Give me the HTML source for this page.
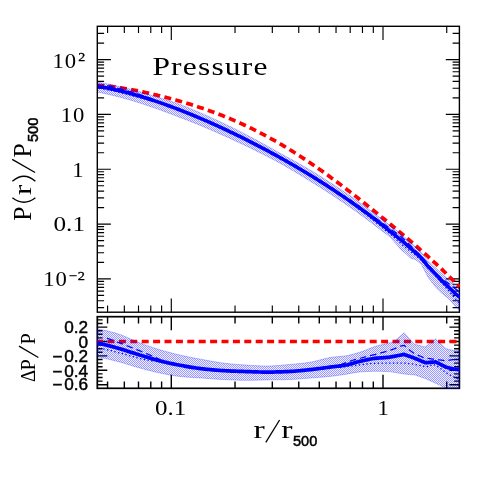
<!DOCTYPE html>
<html><head><meta charset="utf-8"><title>Pressure</title>
<style>
html,body{margin:0;padding:0;background:#fff;}
body{width:485px;height:485px;overflow:hidden;position:relative;font-family:"Liberation Serif",serif;}
svg{position:absolute;left:0;top:0;will-change:transform;}
text{fill:#000;}
.ser{font-family:"Liberation Serif",serif;}
.san{font-family:"Liberation Sans",sans-serif;}
</style></head><body>
<svg width="485" height="485" viewBox="0 0 485 485">
<defs>
<pattern id="hatch" width="2" height="2" patternUnits="userSpaceOnUse">
<rect width="2" height="2" fill="#0000ff" fill-opacity="0.06"/><rect x="0" y="0" width="1" height="1" fill="#0000ff" fill-opacity="0.36"/><rect x="1" y="1" width="1" height="1" fill="#0000ff" fill-opacity="0.36"/>
</pattern>
<clipPath id="cm"><rect x="97.89999999999999" y="26.3" width="362.29999999999995" height="285.9"/></clipPath>
<clipPath id="cl"><rect x="97.0" y="316.7" width="363.2" height="72.20000000000002"/></clipPath>
</defs>
<rect width="485" height="485" fill="#fff"/>
<!-- frames and ticks -->
<path d="M107.57,26.30L107.57,33.10M107.57,312.20L107.57,305.40M124.33,26.30L124.33,33.10M124.33,312.20L124.33,305.40M138.51,26.30L138.51,33.10M138.51,312.20L138.51,305.40M150.78,26.30L150.78,33.10M150.78,312.20L150.78,305.40M161.61,26.30L161.61,33.10M161.61,312.20L161.61,305.40M171.30,26.30L171.30,39.90M171.30,312.20L171.30,298.60M235.03,26.30L235.03,33.10M235.03,312.20L235.03,305.40M272.31,26.30L272.31,33.10M272.31,312.20L272.31,305.40M298.76,26.30L298.76,33.10M298.76,312.20L298.76,305.40M319.27,26.30L319.27,33.10M319.27,312.20L319.27,305.40M336.03,26.30L336.03,33.10M336.03,312.20L336.03,305.40M350.21,26.30L350.21,33.10M350.21,312.20L350.21,305.40M362.48,26.30L362.48,33.10M362.48,312.20L362.48,305.40M373.31,26.30L373.31,33.10M373.31,312.20L373.31,305.40M383.00,26.30L383.00,39.90M383.00,312.20L383.00,298.60M446.73,26.30L446.73,33.10M446.73,312.20L446.73,305.40M97.30,307.59L104.10,307.59M459.40,307.59L452.60,307.59M97.30,300.74L104.10,300.74M459.40,300.74L452.60,300.74M97.30,295.43L104.10,295.43M459.40,295.43L452.60,295.43M97.30,291.08L104.10,291.08M459.40,291.08L452.60,291.08M97.30,287.41L104.10,287.41M459.40,287.41L452.60,287.41M97.30,284.23L104.10,284.23M459.40,284.23L452.60,284.23M97.30,281.43L104.10,281.43M459.40,281.43L452.60,281.43M97.30,278.92L110.90,278.92M459.40,278.92L445.80,278.92M97.30,262.41L104.10,262.41M459.40,262.41L452.60,262.41M97.30,252.76L104.10,252.76M459.40,252.76L452.60,252.76M97.30,245.91L104.10,245.91M459.40,245.91L452.60,245.91M97.30,240.60L104.10,240.60M459.40,240.60L452.60,240.60M97.30,236.25L104.10,236.25M459.40,236.25L452.60,236.25M97.30,232.58L104.10,232.58M459.40,232.58L452.60,232.58M97.30,229.40L104.10,229.40M459.40,229.40L452.60,229.40M97.30,226.60L104.10,226.60M459.40,226.60L452.60,226.60M97.30,224.09L110.90,224.09M459.40,224.09L445.80,224.09M97.30,207.58L104.10,207.58M459.40,207.58L452.60,207.58M97.30,197.93L104.10,197.93M459.40,197.93L452.60,197.93M97.30,191.08L104.10,191.08M459.40,191.08L452.60,191.08M97.30,185.77L104.10,185.77M459.40,185.77L452.60,185.77M97.30,181.42L104.10,181.42M459.40,181.42L452.60,181.42M97.30,177.75L104.10,177.75M459.40,177.75L452.60,177.75M97.30,174.57L104.10,174.57M459.40,174.57L452.60,174.57M97.30,171.77L104.10,171.77M459.40,171.77L452.60,171.77M97.30,169.26L110.90,169.26M459.40,169.26L445.80,169.26M97.30,152.75L104.10,152.75M459.40,152.75L452.60,152.75M97.30,143.10L104.10,143.10M459.40,143.10L452.60,143.10M97.30,136.25L104.10,136.25M459.40,136.25L452.60,136.25M97.30,130.94L104.10,130.94M459.40,130.94L452.60,130.94M97.30,126.59L104.10,126.59M459.40,126.59L452.60,126.59M97.30,122.92L104.10,122.92M459.40,122.92L452.60,122.92M97.30,119.74L104.10,119.74M459.40,119.74L452.60,119.74M97.30,116.94L104.10,116.94M459.40,116.94L452.60,116.94M97.30,114.43L110.90,114.43M459.40,114.43L445.80,114.43M97.30,97.92L104.10,97.92M459.40,97.92L452.60,97.92M97.30,88.27L104.10,88.27M459.40,88.27L452.60,88.27M97.30,81.42L104.10,81.42M459.40,81.42L452.60,81.42M97.30,76.11L104.10,76.11M459.40,76.11L452.60,76.11M97.30,71.76L104.10,71.76M459.40,71.76L452.60,71.76M97.30,68.09L104.10,68.09M459.40,68.09L452.60,68.09M97.30,64.91L104.10,64.91M459.40,64.91L452.60,64.91M97.30,62.11L104.10,62.11M459.40,62.11L452.60,62.11M97.30,59.60L110.90,59.60M459.40,59.60L445.80,59.60M97.30,43.09L104.10,43.09M459.40,43.09L452.60,43.09M97.30,33.44L104.10,33.44M459.40,33.44L452.60,33.44" stroke="#000" stroke-width="1.15" fill="none"/>
<path d="M107.57,316.70L107.57,323.50M107.57,388.30L107.57,381.50M124.33,316.70L124.33,323.50M124.33,388.30L124.33,381.50M138.51,316.70L138.51,323.50M138.51,388.30L138.51,381.50M150.78,316.70L150.78,323.50M150.78,388.30L150.78,381.50M161.61,316.70L161.61,323.50M161.61,388.30L161.61,381.50M171.30,316.70L171.30,330.30M171.30,388.30L171.30,374.70M235.03,316.70L235.03,323.50M235.03,388.30L235.03,381.50M272.31,316.70L272.31,323.50M272.31,388.30L272.31,381.50M298.76,316.70L298.76,323.50M298.76,388.30L298.76,381.50M319.27,316.70L319.27,323.50M319.27,388.30L319.27,381.50M336.03,316.70L336.03,323.50M336.03,388.30L336.03,381.50M350.21,316.70L350.21,323.50M350.21,388.30L350.21,381.50M362.48,316.70L362.48,323.50M362.48,388.30L362.48,381.50M373.31,316.70L373.31,323.50M373.31,388.30L373.31,381.50M383.00,316.70L383.00,330.30M383.00,388.30L383.00,374.70M446.73,316.70L446.73,323.50M446.73,388.30L446.73,381.50M97.30,384.70L107.30,384.70M459.40,384.70L449.40,384.70M97.30,381.10L102.60,381.10M459.40,381.10L454.10,381.10M97.30,377.50L102.60,377.50M459.40,377.50L454.10,377.50M97.30,373.90L102.60,373.90M459.40,373.90L454.10,373.90M97.30,370.30L107.30,370.30M459.40,370.30L449.40,370.30M97.30,366.70L102.60,366.70M459.40,366.70L454.10,366.70M97.30,363.10L102.60,363.10M459.40,363.10L454.10,363.10M97.30,359.50L102.60,359.50M459.40,359.50L454.10,359.50M97.30,355.90L107.30,355.90M459.40,355.90L449.40,355.90M97.30,352.30L102.60,352.30M459.40,352.30L454.10,352.30M97.30,348.70L102.60,348.70M459.40,348.70L454.10,348.70M97.30,345.10L102.60,345.10M459.40,345.10L454.10,345.10M97.30,341.50L107.30,341.50M459.40,341.50L449.40,341.50M97.30,337.90L102.60,337.90M459.40,337.90L454.10,337.90M97.30,334.30L102.60,334.30M459.40,334.30L454.10,334.30M97.30,330.70L102.60,330.70M459.40,330.70L454.10,330.70M97.30,327.10L107.30,327.10M459.40,327.10L449.40,327.10M97.30,323.50L102.60,323.50M459.40,323.50L454.10,323.50M97.30,319.90L102.60,319.90M459.40,319.90L454.10,319.90" stroke="#000" stroke-width="1.4" fill="none"/>
<rect x="97.3" y="26.3" width="362.09999999999997" height="285.9" fill="none" stroke="#000" stroke-width="1.4"/>
<rect x="97.3" y="316.7" width="362.09999999999997" height="71.60000000000002" fill="none" stroke="#000" stroke-width="1.7"/>
<!-- main panel data -->
<g clip-path="url(#cm)">
<path d="M97.30,85.36 L98.75,85.44 L100.21,85.53 L101.66,85.63 L103.12,85.74 L104.57,85.87 L106.03,86.00 L107.48,86.15 L108.93,86.30 L110.39,86.46 L111.84,86.63 L113.30,86.81 L114.75,87.00 L116.20,87.20 L117.30,87.35 L117.66,87.40 L119.11,87.61 L120.57,87.83 L122.02,88.05 L123.48,88.29 L124.93,88.52 L125.00,88.54 L126.38,88.77 L127.84,89.02 L129.29,89.28 L130.75,89.54 L132.20,89.81 L133.66,90.08 L135.11,90.36 L136.56,90.64 L138.02,90.93 L139.47,91.23 L139.50,91.23 L140.93,91.53 L142.38,91.83 L143.83,92.14 L145.29,92.45 L146.74,92.77 L148.20,93.09 L149.65,93.42 L150.00,93.50 L151.11,93.75 L152.56,94.09 L154.01,94.43 L155.47,94.77 L156.92,95.12 L158.38,95.47 L159.83,95.83 L161.29,96.19 L161.80,96.32 L162.74,96.56 L164.19,96.92 L165.65,97.30 L167.10,97.68 L168.56,98.06 L170.01,98.45 L171.47,98.84 L172.92,99.23 L174.37,99.63 L175.83,100.04 L177.28,100.45 L178.74,100.86 L180.00,101.22 L180.19,101.28 L181.64,101.70 L182.00,101.80 L183.10,102.13 L184.55,102.56 L186.01,102.99 L187.46,103.43 L188.92,103.88 L190.37,104.33 L191.82,104.79 L193.28,105.25 L194.73,105.71 L196.19,106.18 L197.64,106.66 L199.10,107.14 L200.55,107.63 L202.00,108.12 L202.30,108.22 L203.46,108.61 L204.91,109.12 L206.37,109.62 L207.00,109.85 L207.82,110.14 L209.27,110.66 L210.73,111.18 L212.18,111.71 L213.64,112.25 L215.09,112.79 L216.55,113.34 L218.00,113.89 L219.45,114.45 L220.91,115.02 L222.36,115.59 L223.82,116.17 L224.50,116.45 L225.27,116.76 L226.73,117.35 L228.18,117.95 L229.63,118.55 L231.09,119.17 L232.54,119.78 L234.00,120.41 L235.00,120.84 L235.45,121.04 L236.90,121.68 L238.36,122.32 L239.81,122.97 L241.27,123.63 L242.72,124.30 L244.18,124.97 L245.63,125.65 L246.80,126.20 L247.08,126.34 L248.54,127.03 L249.99,127.73 L251.45,128.44 L252.90,129.15 L254.36,129.87 L255.81,130.60 L257.26,131.34 L258.72,132.08 L260.00,132.74 L260.17,132.83 L261.63,133.59 L263.08,134.35 L264.53,135.12 L265.99,135.90 L267.00,136.45 L267.44,136.69 L268.90,137.48 L270.35,138.28 L271.81,139.09 L273.26,139.91 L274.71,140.73 L276.17,141.56 L277.62,142.39 L279.08,143.24 L280.00,143.77 L280.53,144.09 L281.99,144.94 L283.44,145.81 L284.89,146.68 L286.35,147.56 L287.30,148.14 L287.80,148.44 L289.26,149.33 L290.00,149.79 L290.71,150.23 L292.17,151.14 L293.62,152.05 L295.07,152.97 L296.53,153.89 L297.98,154.83 L299.44,155.76 L300.89,156.71 L302.34,157.66 L303.80,158.62 L305.25,159.58 L306.71,160.55 L308.16,161.53 L309.50,162.43 L309.62,162.51 L311.07,163.50 L312.52,164.49 L313.00,164.82 L313.98,165.49 L315.00,166.20 L315.43,166.49 L316.89,167.51 L318.34,168.52 L319.80,169.54 L321.25,170.57 L322.70,171.61 L324.16,172.64 L325.61,173.69 L327.07,174.74 L328.52,175.79 L329.97,176.85 L331.43,177.91 L331.80,178.18 L332.88,178.98 L334.34,180.05 L335.79,181.13 L337.25,182.21 L338.70,183.30 L340.15,184.39 L341.61,185.49 L343.06,186.58 L344.52,187.69 L345.00,188.06 L345.97,188.80 L347.43,189.91 L348.88,191.02 L350.33,192.14 L351.79,193.26 L353.24,194.39 L354.70,195.52 L356.15,196.65 L357.60,197.79 L359.06,198.93 L359.80,199.51 L360.00,199.67 L360.51,200.08 L361.97,201.22 L363.42,202.37 L364.88,203.53 L366.33,204.68 L367.78,205.84 L369.24,207.00 L370.69,208.17 L372.15,209.34 L373.60,210.51 L374.70,211.39 L375.06,211.68 L376.51,212.86 L377.96,214.04 L379.42,215.22 L380.00,215.69 L380.87,216.40 L382.33,217.59 L383.78,218.78 L385.23,219.97 L386.69,221.17 L388.14,222.37 L389.50,223.49 L389.60,223.57 L390.30,224.15 L391.05,224.77 L392.51,225.98 L393.40,226.72 L393.96,227.19 L395.41,228.40 L396.87,229.61 L398.32,230.83 L399.78,232.05 L400.60,232.74 L401.23,233.28 L402.69,234.50 L404.14,235.74 L404.20,235.79 L405.59,236.97 L407.05,238.21 L408.50,239.45 L409.96,240.69 L410.90,241.50 L411.41,241.94 L412.87,243.20 L414.00,244.18 L414.32,244.45 L415.20,245.22 L415.77,245.71 L417.23,246.98 L418.68,248.25 L420.14,249.53 L421.20,250.46 L421.59,250.81 L423.04,252.10 L424.50,253.39 L425.30,254.10 L425.50,254.28 L425.95,254.68 L426.20,254.91 L427.41,255.99 L428.40,256.88 L428.86,257.30 L430.32,258.62 L431.77,259.94 L433.22,261.27 L434.68,262.61 L435.50,263.37 L436.13,263.96 L437.59,265.31 L439.04,266.67 L440.50,268.05 L441.80,269.29 L441.95,269.43 L443.40,270.82 L444.86,272.22 L446.00,273.33 L446.31,273.64 L447.77,275.06 L449.22,276.50 L450.67,277.94 L452.13,279.40 L453.00,280.29 L453.40,280.69 L453.58,280.88 L455.04,282.37 L455.20,282.53 L456.49,283.87 L457.95,285.38 L459.40,286.92" fill="none" stroke="#ff0000" stroke-width="3.7" stroke-dasharray="7 4.36"/>
<path d="M97.30,82.14 L98.75,82.37 L100.21,82.61 L101.66,82.86 L103.12,83.12 L104.57,83.38 L106.03,83.65 L107.48,83.93 L108.93,84.21 L110.39,84.50 L111.84,84.80 L113.30,85.10 L114.75,85.41 L116.20,85.73 L117.30,85.98 L117.66,86.06 L119.11,86.39 L120.57,86.73 L122.02,87.07 L123.48,87.42 L124.93,87.78 L125.00,87.80 L126.38,88.14 L127.84,88.51 L129.29,88.89 L130.75,89.27 L132.20,89.66 L133.66,90.05 L135.11,90.45 L136.56,90.86 L138.02,91.27 L139.47,91.69 L139.50,91.70 L140.93,92.11 L142.38,92.54 L143.83,92.97 L145.29,93.41 L146.74,93.85 L148.20,94.30 L149.65,94.76 L150.00,94.87 L151.11,95.22 L152.56,95.68 L154.01,96.15 L155.47,96.61 L156.92,97.04 L158.38,97.47 L159.83,97.91 L161.29,98.35 L161.80,98.50 L162.74,98.79 L164.19,99.24 L165.65,99.70 L167.10,100.16 L168.56,100.62 L170.01,101.09 L171.47,101.56 L172.92,102.04 L174.37,102.52 L175.83,103.01 L177.28,103.50 L178.74,104.00 L180.00,104.43 L180.19,104.51 L181.64,105.08 L182.00,105.23 L183.10,105.67 L184.55,106.25 L186.01,106.84 L187.46,107.44 L188.92,108.04 L190.37,108.64 L191.82,109.25 L193.28,109.86 L194.73,110.47 L196.19,111.09 L197.64,111.71 L199.10,112.34 L200.55,112.97 L202.00,113.60 L202.30,113.73 L203.46,114.24 L204.91,114.88 L206.37,115.53 L207.00,115.81 L207.82,116.17 L209.27,116.83 L210.73,117.48 L212.18,118.14 L213.64,118.80 L215.09,119.47 L216.55,120.14 L218.00,120.81 L219.45,121.49 L220.91,122.17 L222.36,122.86 L223.82,123.54 L224.50,123.87 L225.27,124.23 L226.73,124.93 L228.18,125.63 L229.63,126.33 L231.09,127.03 L232.54,127.74 L234.00,128.45 L235.00,128.94 L235.45,129.17 L236.90,129.91 L238.36,130.65 L239.81,131.39 L241.27,132.14 L242.72,132.89 L244.18,133.64 L245.63,134.40 L246.80,135.01 L247.08,135.16 L248.54,135.92 L249.99,136.69 L251.45,137.46 L252.90,138.23 L254.36,139.01 L255.81,139.79 L257.26,140.57 L258.72,141.36 L260.00,142.05 L260.17,142.15 L261.63,142.94 L263.08,143.74 L264.53,144.54 L265.99,145.34 L267.00,145.90 L267.44,146.15 L268.90,146.96 L270.35,147.77 L271.81,148.59 L273.26,149.41 L274.71,150.23 L276.17,151.06 L277.62,151.89 L279.08,152.72 L280.00,153.26 L280.53,153.54 L281.99,154.32 L283.44,155.10 L284.89,155.88 L286.35,156.67 L287.30,157.19 L287.80,157.46 L289.26,158.26 L290.00,158.67 L290.71,159.06 L292.17,159.86 L293.62,160.67 L295.07,161.48 L296.53,162.29 L297.98,163.11 L299.44,163.93 L300.89,164.76 L302.34,165.58 L303.80,166.42 L305.25,167.26 L306.71,168.10 L308.16,168.94 L309.50,169.72 L309.62,169.79 L311.07,170.64 L312.52,171.50 L313.00,171.78 L313.98,172.38 L315.00,173.01 L315.43,173.27 L316.89,174.17 L318.34,175.07 L319.80,175.98 L321.25,176.89 L322.70,177.80 L324.16,178.72 L325.61,179.64 L327.07,180.57 L328.52,181.50 L329.97,182.44 L331.43,183.38 L331.80,183.62 L332.88,184.33 L334.34,185.28 L335.79,186.23 L337.25,187.19 L338.70,188.16 L340.15,189.13 L341.61,190.11 L343.06,191.09 L344.52,192.07 L345.00,192.40 L345.97,193.06 L347.43,194.06 L348.88,195.06 L350.33,196.07 L351.79,197.07 L353.24,198.08 L354.70,199.09 L356.15,200.11 L357.60,201.14 L359.06,202.17 L359.80,202.70 L360.00,202.84 L360.51,203.21 L361.97,204.25 L363.42,205.30 L364.88,206.36 L366.33,207.42 L367.78,208.48 L369.24,209.56 L370.69,210.64 L372.15,211.72 L373.60,212.82 L374.70,213.65 L375.06,213.91 L376.51,215.02 L377.96,216.13 L379.42,217.25 L380.00,217.70 L380.87,218.37 L382.33,219.49 L383.78,220.61 L385.23,221.74 L386.69,222.88 L388.14,224.03 L389.50,225.11 L389.60,225.18 L390.30,225.74 L391.05,226.31 L392.51,227.41 L393.40,228.09 L393.96,228.52 L395.41,229.64 L396.87,230.76 L398.32,231.90 L399.78,233.04 L400.60,233.71 L401.23,234.25 L402.69,235.50 L404.14,236.75 L404.20,236.80 L405.59,238.02 L407.05,239.29 L408.50,240.57 L409.96,241.85 L410.90,242.69 L411.41,243.15 L412.87,244.47 L414.00,245.50 L414.32,245.79 L415.20,246.60 L415.77,247.13 L417.23,248.47 L418.68,249.82 L420.14,251.18 L421.20,252.18 L421.59,252.67 L423.04,254.50 L424.50,256.33 L425.30,257.35 L425.50,257.60 L425.95,258.18 L426.20,258.49 L427.41,260.03 L428.40,261.26 L428.86,261.68 L430.32,263.00 L431.77,264.34 L433.22,265.68 L434.68,267.04 L435.50,267.81 L436.13,268.40 L437.59,269.78 L439.04,271.16 L440.50,272.56 L441.80,273.82 L441.95,273.94 L443.40,275.17 L444.86,276.42 L446.00,277.40 L446.31,277.67 L447.77,278.94 L449.22,280.21 L450.67,281.50 L452.13,282.80 L453.00,283.59 L453.40,283.95 L453.58,284.11 L455.04,285.44 L455.20,285.60 L456.49,286.63 L457.95,287.81 L459.40,289.00 L459.40,310.00 L457.95,308.61 L456.49,307.23 L455.20,306.02 L455.04,305.84 L453.58,304.20 L453.40,304.00 L453.00,303.55 L452.13,302.58 L450.67,300.97 L449.22,299.37 L447.77,297.98 L446.31,296.79 L446.00,296.54 L444.86,295.61 L443.40,294.45 L441.95,293.29 L441.80,293.17 L440.50,291.94 L439.04,290.58 L437.59,289.23 L436.13,287.57 L435.50,286.76 L434.68,285.71 L433.22,283.86 L431.77,282.02 L430.32,280.19 L428.86,278.38 L428.40,277.80 L427.41,275.90 L426.20,273.60 L425.95,273.13 L425.50,272.27 L425.30,271.89 L424.50,270.36 L423.04,267.61 L421.59,264.86 L421.20,264.13 L420.14,263.16 L418.68,262.07 L417.23,260.99 L415.77,259.92 L415.20,259.50 L414.32,259.17 L414.00,259.09 L412.87,258.79 L411.41,258.43 L410.90,258.30 L409.96,257.45 L408.50,256.14 L407.05,254.85 L405.59,253.56 L404.20,252.33 L404.14,252.28 L402.69,251.01 L401.23,249.75 L400.60,249.20 L399.78,248.23 L398.32,246.52 L396.87,244.81 L395.41,243.12 L393.96,241.43 L393.40,240.78 L392.51,239.75 L391.05,238.07 L390.30,237.21 L389.60,236.55 L389.50,236.47 L388.14,235.44 L386.69,234.35 L385.23,233.26 L383.78,232.18 L382.33,231.10 L380.87,230.04 L380.00,229.40 L379.42,228.94 L377.96,227.81 L376.51,226.68 L375.06,225.56 L374.70,225.28 L373.60,224.44 L372.15,223.33 L370.69,222.23 L369.24,221.13 L367.78,220.04 L366.33,218.96 L364.88,217.88 L363.42,216.81 L361.97,215.74 L360.51,214.68 L360.00,214.31 L359.80,214.16 L359.06,213.63 L357.60,212.58 L356.15,211.54 L354.70,210.50 L353.24,209.47 L351.79,208.44 L350.33,207.42 L348.88,206.40 L347.43,205.38 L345.97,204.37 L345.00,203.69 L344.52,203.36 L343.06,202.37 L341.61,201.38 L340.15,200.39 L338.70,199.41 L337.25,198.44 L335.79,197.47 L334.34,196.51 L332.88,195.55 L331.80,194.83 L331.43,194.59 L329.97,193.64 L328.52,192.70 L327.07,191.75 L325.61,190.82 L324.16,189.89 L322.70,188.96 L321.25,188.04 L319.80,187.12 L318.34,186.20 L316.89,185.29 L315.43,184.39 L315.00,184.12 L313.98,183.49 L313.00,182.88 L312.52,182.58 L311.07,181.67 L309.62,180.77 L309.50,180.70 L308.16,179.87 L306.71,178.97 L305.25,178.07 L303.80,177.18 L302.34,176.30 L300.89,175.41 L299.44,174.54 L297.98,173.66 L296.53,172.79 L295.07,171.92 L293.62,171.06 L292.17,170.20 L290.71,169.35 L290.00,168.93 L289.26,168.49 L287.80,167.65 L287.30,167.35 L286.35,166.80 L284.89,165.96 L283.44,165.12 L281.99,164.29 L280.53,163.46 L280.00,163.16 L279.08,162.66 L277.62,161.89 L276.17,161.12 L274.71,160.35 L273.26,159.59 L271.81,158.83 L270.35,158.08 L268.90,157.32 L267.44,156.58 L267.00,156.35 L265.99,155.83 L264.53,155.09 L263.08,154.35 L261.63,153.61 L260.17,152.88 L260.00,152.80 L258.72,152.15 L257.26,151.43 L255.81,150.71 L254.36,149.99 L252.90,149.27 L251.45,148.56 L249.99,147.85 L248.54,147.15 L247.08,146.45 L246.80,146.31 L245.63,145.75 L244.18,145.05 L242.72,144.36 L241.27,143.67 L239.81,142.99 L238.36,142.30 L236.90,141.63 L235.45,140.95 L235.00,140.74 L234.00,140.27 L232.54,139.59 L231.09,138.92 L229.63,138.24 L228.18,137.57 L226.73,136.91 L225.27,136.25 L224.50,135.90 L223.82,135.59 L222.36,134.93 L220.91,134.28 L219.45,133.63 L218.00,132.98 L216.55,132.34 L215.09,131.70 L213.64,131.07 L212.18,130.44 L210.73,129.81 L209.27,129.19 L207.82,128.57 L207.00,128.22 L206.37,127.95 L204.91,127.34 L203.46,126.73 L202.30,126.25 L202.00,126.12 L200.55,125.52 L199.10,124.92 L197.64,124.33 L196.19,123.74 L194.73,123.15 L193.28,122.57 L191.82,121.99 L190.37,121.41 L188.92,120.84 L187.46,120.28 L186.01,119.71 L184.55,119.15 L183.10,118.60 L182.00,118.18 L181.64,118.05 L180.19,117.50 L180.00,117.43 L178.74,116.93 L177.28,116.36 L175.83,115.79 L174.37,115.23 L172.92,114.67 L171.47,114.12 L170.01,113.57 L168.56,113.03 L167.10,112.49 L165.65,111.95 L164.19,111.42 L162.74,110.89 L161.80,110.56 L161.29,110.37 L159.83,109.86 L158.38,109.35 L156.92,108.84 L155.47,108.34 L154.01,107.82 L152.56,107.31 L151.11,106.80 L150.00,106.41 L149.65,106.29 L148.20,105.79 L146.74,105.30 L145.29,104.81 L143.83,104.32 L142.38,103.85 L140.93,103.37 L139.50,102.91 L139.47,102.91 L138.02,102.44 L136.56,101.99 L135.11,101.54 L133.66,101.09 L132.20,100.65 L130.75,100.22 L129.29,99.79 L127.84,99.37 L126.38,98.96 L125.00,98.57 L124.93,98.55 L123.48,98.15 L122.02,97.75 L120.57,97.36 L119.11,96.98 L117.66,96.60 L117.30,96.51 L116.20,96.23 L114.75,95.87 L113.30,95.51 L111.84,95.16 L110.39,94.82 L108.93,94.48 L107.48,94.15 L106.03,93.83 L104.57,93.51 L103.12,93.21 L101.66,92.91 L100.21,92.61 L98.75,92.33 L97.30,92.05Z" fill="url(#hatch)" stroke="#0000ff" stroke-opacity="0.35" stroke-width="0.7"/>
<path d="M107.00,85.67 L107.67,85.82 L108.34,85.97 L109.01,86.13 L109.68,86.28 L110.35,86.44 L111.03,86.60 L111.70,86.76 L112.37,86.92 L113.04,87.08 L113.71,87.25 L114.38,87.41 L115.05,87.58 L115.72,87.74 L116.39,87.91 L117.06,88.08 L117.73,88.26 L118.41,88.43 L119.08,88.60 L119.75,88.78 L120.42,88.95 L121.09,89.13 L121.76,89.30 L122.43,89.48 L123.10,89.66 L123.77,89.84 L124.44,90.02 L125.00,90.17 L125.11,90.20 L125.78,90.38 L126.46,90.57 L127.13,90.75 L127.80,90.94 L128.47,91.13 L129.14,91.32 L129.81,91.51 L130.48,91.70 L131.15,91.89 L131.82,92.09 L132.49,92.28 L133.16,92.48 L133.84,92.68 L134.51,92.88 L135.18,93.09 L135.85,93.29 L136.52,93.50 L137.19,93.71 L137.86,93.93 L138.53,94.14 L139.20,94.36 L139.87,94.58 L140.54,94.80 L141.22,95.02 L141.89,95.24 L142.56,95.47 L143.23,95.70 L143.90,95.92 L144.57,96.15 L145.00,96.30 L145.24,96.38 L145.91,96.62 L146.58,96.85 L147.25,97.09 L147.92,97.33 L148.59,97.57 L149.27,97.81 L149.94,98.05 L150.61,98.30 L151.28,98.55 L151.95,98.80 L152.62,99.06 L153.29,99.31 L153.96,99.57 L154.63,99.83 L155.30,100.10 L155.97,100.36 L156.65,100.63 L157.32,100.91 L157.99,101.18 L158.66,101.46 L159.33,101.74 L160.00,102.03" fill="none" stroke="#0000ff" stroke-width="1.25" stroke-dasharray="6.5 4"/>
<path d="M340.00,193.83 L341.51,194.65 L343.02,195.49 L344.53,196.36 L346.05,197.26 L347.56,198.20 L349.07,199.18 L350.58,200.20 L351.20,200.62 L352.09,201.24 L353.60,202.30 L355.11,203.38 L356.63,204.46 L358.14,205.54 L359.65,206.62 L361.16,207.70 L362.67,208.79 L364.18,209.90 L365.69,211.00 L367.21,212.11 L368.72,213.22 L370.23,214.32 L371.74,215.42 L373.25,216.50 L374.70,217.53 L374.76,217.57 L376.27,218.63 L377.78,219.69 L379.30,220.75 L380.81,221.81 L382.32,222.89 L383.10,223.45 L383.83,223.97 L385.34,225.07 L386.85,226.17 L388.36,227.28 L389.88,228.41 L391.39,229.56 L392.90,230.70 L393.40,231.08 L394.41,231.80 L395.92,232.88 L397.43,233.97 L398.94,235.07 L400.46,236.19 L400.60,236.29 L401.97,237.45 L403.48,238.74 L404.20,239.35 L404.99,240.15 L406.50,241.68 L408.01,243.22 L409.52,244.78 L409.90,245.17 L411.04,246.31 L412.55,247.86 L414.00,249.36 L414.06,249.41 L415.57,250.77 L417.08,252.14 L418.59,253.51 L420.10,254.90 L421.62,256.43 L423.13,258.31 L424.30,259.77 L424.64,260.14 L426.15,261.96 L427.66,263.99 L429.17,265.84 L430.00,266.75 L430.68,267.52 L432.19,269.24 L433.71,270.96 L435.22,272.70 L435.50,273.03 L436.73,274.10 L438.24,275.42 L439.75,276.75 L441.26,278.08 L442.77,279.26 L444.29,280.37 L445.80,281.48 L446.00,281.63 L447.31,282.60 L448.82,283.73 L450.33,284.87 L451.84,286.02 L452.20,286.30 L453.35,287.24 L454.87,288.61 L456.38,289.76 L457.89,290.87 L459.40,291.98" fill="none" stroke="#0000ff" stroke-width="1.25" stroke-dasharray="6.5 4"/>
<path d="M103.30,88.89 L103.95,89.02 L104.61,89.14 L105.26,89.27 L105.92,89.40 L106.57,89.53 L107.23,89.66 L107.88,89.79 L108.54,89.92 L109.19,90.06 L109.84,90.20 L110.50,90.33 L111.15,90.47 L111.81,90.61 L112.46,90.75 L113.12,90.89 L113.77,91.04 L114.43,91.18 L115.08,91.33 L115.73,91.48 L116.39,91.62 L117.04,91.77 L117.70,91.92 L118.35,92.08 L119.01,92.23 L119.66,92.38 L120.00,92.46 L120.32,92.53 L120.97,92.69 L121.62,92.85 L122.28,93.00 L122.93,93.16 L123.59,93.32 L124.24,93.49 L124.90,93.65 L125.55,93.82 L126.21,93.98 L126.86,94.15 L127.51,94.32 L128.17,94.49 L128.82,94.66 L129.48,94.83 L130.13,95.01 L130.79,95.18 L131.44,95.35 L132.09,95.53 L132.75,95.71 L133.40,95.88 L134.06,96.06 L134.71,96.24 L135.37,96.42 L136.02,96.59 L136.68,96.77 L137.33,96.95 L137.98,97.13 L138.64,97.31 L139.29,97.49 L139.95,97.67 L140.00,97.69 L140.60,97.85 L141.26,98.03 L141.91,98.21 L142.57,98.39 L143.22,98.57 L143.87,98.74 L144.53,98.92 L145.18,99.10 L145.84,99.28 L146.49,99.46 L147.15,99.64 L147.80,99.82 L148.46,100.00 L149.11,100.18 L149.76,100.36 L150.42,100.55 L151.07,100.73 L151.73,100.91 L152.38,101.09 L153.04,101.28 L153.69,101.46 L154.35,101.65 L155.00,101.83" fill="none" stroke="#0000ff" stroke-width="1.3" stroke-dasharray="1.3 2.5"/>
<path d="M340.00,195.09 L341.51,196.10 L343.02,197.12 L344.53,198.17 L346.05,199.24 L347.56,200.33 L349.07,201.46 L350.58,202.61 L352.09,203.77 L353.60,204.94 L355.11,206.11 L356.63,207.29 L357.40,207.89 L358.14,208.46 L359.65,209.62 L361.16,210.76 L362.67,211.92 L364.18,213.08 L365.69,214.24 L367.21,215.42 L368.72,216.59 L370.23,217.78 L371.74,218.97 L373.25,220.17 L374.70,221.33 L374.76,221.38 L376.27,222.59 L377.78,223.80 L379.30,225.00 L380.81,226.22 L382.32,227.45 L383.83,228.69 L385.34,229.94 L386.85,231.25 L388.36,232.52 L389.50,233.48 L389.88,233.82 L391.39,235.14 L392.90,236.44 L394.41,237.76 L395.92,239.08 L397.43,240.41 L398.94,241.74 L400.46,243.09 L401.97,244.47 L403.48,245.86 L404.20,246.52 L404.99,247.12 L406.50,248.26 L408.01,249.42 L409.52,250.58 L411.04,251.74 L412.55,252.93 L414.00,254.07 L414.06,254.12 L415.57,255.37 L417.08,256.63 L418.59,257.90 L420.10,259.18 L421.62,260.59 L423.13,262.35 L424.64,264.11 L426.15,266.04 L426.20,266.11 L427.66,267.75 L429.17,269.27 L430.68,270.61 L432.19,271.97 L433.60,273.24 L433.71,273.39 L435.22,275.41 L436.73,277.13 L438.24,278.79 L438.60,279.19 L439.75,280.59 L441.26,282.46 L442.77,284.19 L444.29,285.85 L445.80,287.54 L446.00,287.77 L447.31,289.27 L448.82,291.01 L450.33,292.77 L451.84,294.55 L453.35,296.36 L453.40,296.41 L454.87,298.26 L456.38,299.96 L457.89,301.62 L459.40,303.30" fill="none" stroke="#0000ff" stroke-width="1.3" stroke-dasharray="1.3 2.5"/>
<path d="M97.30,86.24 L98.75,86.49 L100.21,86.74 L101.66,86.99 L103.12,87.26 L104.57,87.53 L106.03,87.81 L107.48,88.10 L108.93,88.39 L110.39,88.69 L111.84,89.00 L113.30,89.32 L114.75,89.64 L116.20,89.97 L117.30,90.22 L117.66,90.30 L119.11,90.64 L120.57,90.99 L122.02,91.34 L123.48,91.71 L124.93,92.07 L125.00,92.09 L126.38,92.45 L127.84,92.83 L129.29,93.21 L130.75,93.60 L132.20,94.00 L133.66,94.41 L135.11,94.82 L136.56,95.23 L138.02,95.65 L139.47,96.08 L139.50,96.09 L140.93,96.51 L142.38,96.95 L143.83,97.39 L145.29,97.84 L146.74,98.30 L148.20,98.76 L149.65,99.22 L150.00,99.33 L151.11,99.69 L152.56,100.17 L154.01,100.65 L155.47,101.13 L156.92,101.62 L158.38,102.12 L159.83,102.62 L161.29,103.12 L161.80,103.30 L162.74,103.63 L164.19,104.15 L165.65,104.67 L167.10,105.19 L168.56,105.72 L170.01,106.25 L171.47,106.79 L172.92,107.33 L174.37,107.88 L175.83,108.43 L177.28,108.98 L178.74,109.54 L180.00,110.03 L180.19,110.10 L181.64,110.67 L182.00,110.81 L183.10,111.24 L184.55,111.82 L186.01,112.40 L187.46,112.98 L188.92,113.57 L190.37,114.17 L191.82,114.76 L193.28,115.36 L194.73,115.97 L196.19,116.57 L197.64,117.18 L199.10,117.80 L200.55,118.42 L202.00,119.04 L202.30,119.17 L203.46,119.67 L204.91,120.30 L206.37,120.93 L207.00,121.21 L207.82,121.57 L209.27,122.21 L210.73,122.86 L212.18,123.51 L213.64,124.16 L215.09,124.82 L216.55,125.47 L218.00,126.14 L219.45,126.80 L220.91,127.47 L222.36,128.15 L223.82,128.82 L224.50,129.14 L225.27,129.50 L226.73,130.19 L228.18,130.87 L229.63,131.57 L231.09,132.26 L232.54,132.96 L234.00,133.66 L235.00,134.14 L235.45,134.36 L236.90,135.07 L238.36,135.78 L239.81,136.49 L241.27,137.21 L242.72,137.93 L244.18,138.66 L245.63,139.38 L246.80,139.97 L247.08,140.11 L248.54,140.85 L249.99,141.59 L251.45,142.33 L252.90,143.07 L254.36,143.82 L255.81,144.57 L257.26,145.32 L258.72,146.08 L260.00,146.75 L260.17,146.84 L261.63,147.61 L263.08,148.37 L264.53,149.14 L265.99,149.92 L267.00,150.46 L267.44,150.70 L268.90,151.48 L270.35,152.26 L271.81,153.05 L273.26,153.84 L274.71,154.64 L276.17,155.44 L277.62,156.24 L279.08,157.04 L280.00,157.56 L280.53,157.85 L281.99,158.66 L283.44,159.48 L284.89,160.30 L286.35,161.12 L287.30,161.67 L287.80,161.95 L289.26,162.78 L290.00,163.21 L290.71,163.62 L292.17,164.45 L293.62,165.30 L295.07,166.14 L296.53,166.99 L297.98,167.84 L299.44,168.70 L300.89,169.56 L302.34,170.43 L303.80,171.29 L305.25,172.17 L306.71,173.04 L308.16,173.92 L309.50,174.74 L309.62,174.81 L311.07,175.70 L312.52,176.59 L313.00,176.88 L313.98,177.49 L315.00,178.12 L315.43,178.39 L316.89,179.29 L318.34,180.20 L319.80,181.12 L321.25,182.04 L322.70,182.96 L324.16,183.89 L325.61,184.82 L327.07,185.75 L328.52,186.70 L329.97,187.64 L331.43,188.59 L331.80,188.83 L332.88,189.55 L334.34,190.51 L335.79,191.47 L337.25,192.44 L338.70,193.41 L340.15,194.39 L341.61,195.38 L343.06,196.37 L344.52,197.36 L345.00,197.69 L345.97,198.36 L347.43,199.37 L348.88,200.38 L350.33,201.39 L351.79,202.40 L353.24,203.42 L354.70,204.44 L356.15,205.47 L357.60,206.51 L359.06,207.55 L359.80,208.08 L360.00,208.22 L360.51,208.59 L361.97,209.64 L363.42,210.70 L364.88,211.77 L366.33,212.84 L367.78,213.91 L369.24,214.99 L370.69,216.08 L372.15,217.18 L373.60,218.28 L374.70,219.11 L375.06,219.39 L376.51,220.50 L377.96,221.62 L379.42,222.75 L380.00,223.20 L380.87,223.89 L382.33,225.04 L383.78,226.21 L385.23,227.37 L386.69,228.55 L388.14,229.73 L389.50,230.84 L389.60,230.92 L390.30,231.50 L391.05,232.09 L392.51,233.22 L393.40,233.93 L393.96,234.37 L395.41,235.52 L396.87,236.69 L398.32,237.85 L399.78,239.03 L400.60,239.70 L401.23,240.23 L402.69,241.45 L404.14,242.68 L404.20,242.73 L405.59,243.92 L407.05,245.16 L408.50,246.41 L409.96,247.68 L410.90,248.50 L411.41,248.95 L412.87,250.24 L414.00,251.25 L414.32,251.54 L415.20,252.33 L415.77,252.84 L417.23,254.16 L418.68,255.48 L420.14,256.82 L421.20,257.80 L421.59,258.28 L423.04,260.08 L424.50,261.89 L425.30,262.90 L425.50,263.15 L425.95,263.72 L426.20,264.03 L427.41,265.55 L428.40,266.80 L428.86,267.27 L430.32,268.75 L431.77,270.24 L433.22,271.74 L434.68,273.25 L435.50,274.11 L436.13,274.77 L437.59,276.30 L439.04,277.85 L440.50,279.40 L441.80,280.80 L441.95,280.94 L443.40,282.28 L444.86,283.64 L446.00,284.71 L446.31,285.00 L447.77,286.38 L449.22,287.77 L450.67,289.17 L452.13,290.58 L453.00,291.43 L453.40,291.82 L453.58,292.00 L455.04,293.44 L455.20,293.60 L456.49,294.63 L457.95,295.81 L459.40,297.00" fill="none" stroke="#0000ff" stroke-width="3.6" stroke-linejoin="round"/>
</g>
<!-- lower panel data -->
<g clip-path="url(#cl)">
<path d="M97.3,341.5 L459.4,341.5" fill="none" stroke="#ff0000" stroke-width="3.7" stroke-dasharray="7 4.4" stroke-dashoffset="1.2"/>
<path d="M97.30,328.94 L98.75,329.17 L100.21,329.42 L101.66,329.68 L103.12,329.97 L104.57,330.28 L106.03,330.60 L107.48,330.94 L108.93,331.30 L110.39,331.67 L111.84,332.06 L113.30,332.45 L114.75,332.86 L116.20,333.28 L117.30,333.60 L117.66,333.71 L119.11,334.18 L120.57,334.69 L122.02,335.24 L123.48,335.83 L124.93,336.45 L125.00,336.48 L126.38,337.08 L127.84,337.74 L129.29,338.40 L130.75,339.06 L132.20,339.73 L133.66,340.38 L135.11,341.02 L136.56,341.64 L138.02,342.23 L139.47,342.79 L139.50,342.80 L140.93,343.33 L142.38,343.86 L143.83,344.39 L145.29,344.91 L146.74,345.42 L148.20,345.93 L149.65,346.43 L150.00,346.55 L151.11,346.93 L152.56,347.41 L154.01,347.89 L155.47,348.36 L156.92,348.82 L158.38,349.28 L159.83,349.72 L161.29,350.15 L161.80,350.30 L162.74,350.57 L164.19,350.99 L165.65,351.40 L167.10,351.80 L168.56,352.19 L170.01,352.58 L171.47,352.96 L172.92,353.33 L174.37,353.70 L175.83,354.06 L177.28,354.41 L178.74,354.75 L180.00,355.05 L180.19,355.09 L181.64,355.42 L182.00,355.50 L183.10,355.74 L184.55,356.06 L186.01,356.37 L187.46,356.67 L188.92,356.97 L190.37,357.26 L191.82,357.54 L193.28,357.83 L194.73,358.10 L196.19,358.38 L197.64,358.65 L199.10,358.92 L200.55,359.18 L202.00,359.45 L202.30,359.50 L203.46,359.71 L204.91,359.98 L206.37,360.25 L207.00,360.37 L207.82,360.52 L209.27,360.79 L210.73,361.06 L212.18,361.32 L213.64,361.58 L215.09,361.83 L216.55,362.08 L218.00,362.31 L219.45,362.53 L220.91,362.74 L222.36,362.94 L223.82,363.12 L224.50,363.20 L225.27,363.29 L226.73,363.44 L228.18,363.60 L229.63,363.75 L231.09,363.89 L232.54,364.03 L234.00,364.16 L235.00,364.25 L235.45,364.29 L236.90,364.41 L238.36,364.52 L239.81,364.64 L241.27,364.74 L242.72,364.84 L244.18,364.94 L245.63,365.03 L246.80,365.10 L247.08,365.12 L248.54,365.20 L249.99,365.29 L251.45,365.38 L252.90,365.47 L254.36,365.56 L255.81,365.64 L257.26,365.72 L258.72,365.79 L260.00,365.84 L260.17,365.85 L261.63,365.90 L263.08,365.95 L264.53,365.98 L265.99,366.00 L267.00,366.00 L267.44,366.00 L268.90,365.98 L270.35,365.94 L271.81,365.89 L273.26,365.81 L274.71,365.73 L276.17,365.63 L277.62,365.52 L279.08,365.40 L280.00,365.32 L280.53,365.28 L281.99,365.15 L283.44,365.03 L284.89,364.90 L286.35,364.78 L287.30,364.70 L287.80,364.66 L289.26,364.54 L290.00,364.48 L290.71,364.42 L292.17,364.29 L293.62,364.16 L295.07,364.02 L296.53,363.88 L297.98,363.73 L299.44,363.57 L300.89,363.41 L302.34,363.24 L303.80,363.07 L305.25,362.88 L306.71,362.69 L308.16,362.49 L309.50,362.30 L309.62,362.28 L311.07,362.05 L312.52,361.77 L313.00,361.67 L313.98,361.46 L315.00,361.23 L315.43,361.12 L316.89,360.76 L318.34,360.39 L319.80,360.01 L321.25,359.62 L322.70,359.24 L324.16,358.87 L325.61,358.51 L327.07,358.18 L328.52,357.87 L329.97,357.59 L331.43,357.35 L331.80,357.30 L332.88,357.16 L334.34,356.99 L335.79,356.85 L337.25,356.71 L338.70,356.59 L340.15,356.46 L341.61,356.32 L343.06,356.16 L344.52,355.97 L345.00,355.90 L345.97,355.75 L347.43,355.48 L348.88,355.18 L350.33,354.85 L351.79,354.49 L353.24,354.11 L354.70,353.70 L356.15,353.29 L357.60,352.86 L359.06,352.42 L359.80,352.20 L360.00,352.14 L360.51,351.98 L361.97,351.49 L363.42,350.96 L364.88,350.39 L366.33,349.81 L367.78,349.21 L369.24,348.62 L370.69,348.04 L372.15,347.48 L373.60,346.96 L374.70,346.60 L375.06,346.49 L376.51,346.05 L377.96,345.64 L379.42,345.25 L380.00,345.10 L380.87,344.89 L382.33,344.57 L383.78,344.28 L385.23,344.01 L386.69,343.55 L388.14,343.22 L389.50,342.90 L389.60,342.88 L390.30,342.72 L391.05,342.54 L392.51,342.21 L393.40,342.00 L393.96,341.52 L395.41,340.27 L396.87,339.01 L398.32,337.76 L399.78,336.51 L400.60,335.80 L401.23,335.26 L402.69,334.00 L404.14,332.75 L404.20,332.70 L405.59,334.32 L407.05,336.01 L408.50,337.70 L409.96,339.40 L410.90,340.49 L411.41,341.09 L412.87,342.78 L414.00,344.10 L414.32,344.18 L415.20,344.41 L415.77,344.56 L417.23,344.93 L418.68,345.30 L420.14,345.67 L421.20,345.95 L421.59,346.05 L423.04,346.42 L424.50,346.79 L425.30,347.00 L425.50,346.84 L425.95,346.48 L426.20,346.29 L427.41,345.33 L428.40,344.54 L428.86,344.17 L430.32,343.02 L431.77,341.86 L433.22,340.71 L434.68,339.55 L435.50,338.90 L436.13,339.48 L437.59,340.83 L439.04,342.17 L440.50,343.51 L441.80,344.72 L441.95,344.86 L443.40,346.20 L444.86,347.54 L446.00,348.60 L446.31,348.68 L447.77,349.03 L449.22,349.38 L450.67,349.74 L452.13,350.09 L453.00,350.30 L453.40,350.40 L453.58,350.40 L455.04,350.40 L455.20,350.40 L456.49,350.40 L457.95,350.40 L459.40,350.40 L459.40,393.00 L457.95,392.55 L456.49,392.09 L455.20,391.69 L455.04,391.64 L453.58,391.18 L453.40,391.12 L453.00,391.00 L452.13,390.63 L450.67,390.00 L449.22,389.38 L447.77,388.76 L446.31,388.13 L446.00,388.00 L444.86,387.48 L443.40,386.81 L441.95,386.15 L441.80,386.08 L440.50,385.48 L439.04,384.82 L437.59,384.15 L436.13,383.49 L435.50,383.20 L434.68,382.82 L433.22,382.15 L431.77,381.48 L430.32,380.80 L428.86,380.13 L428.40,379.92 L427.41,379.46 L426.20,378.90 L425.95,378.81 L425.50,378.65 L425.30,378.58 L424.50,378.30 L423.04,377.78 L421.59,377.27 L421.20,377.13 L420.14,376.75 L418.68,376.23 L417.23,375.72 L415.77,375.20 L415.20,375.00 L414.32,374.92 L414.00,374.89 L412.87,374.79 L411.41,374.66 L410.90,374.61 L409.96,374.52 L408.50,374.39 L407.05,374.26 L405.59,374.13 L404.20,374.00 L404.14,373.99 L402.69,373.75 L401.23,373.52 L400.60,373.41 L399.78,373.28 L398.32,373.04 L396.87,372.80 L395.41,372.57 L393.96,372.33 L393.40,372.24 L392.51,372.09 L391.05,371.85 L390.30,371.73 L389.60,371.62 L389.50,371.60 L388.14,371.57 L386.69,371.54 L385.23,371.46 L383.78,371.42 L382.33,371.39 L380.87,371.36 L380.00,371.34 L379.42,371.34 L377.96,371.32 L376.51,371.31 L375.06,371.30 L374.70,371.30 L373.60,371.31 L372.15,371.33 L370.69,371.37 L369.24,371.42 L367.78,371.49 L366.33,371.56 L364.88,371.65 L363.42,371.74 L361.97,371.84 L360.51,371.95 L360.00,371.99 L359.80,372.00 L359.06,372.06 L357.60,372.22 L356.15,372.42 L354.70,372.65 L353.24,372.90 L351.79,373.18 L350.33,373.46 L348.88,373.73 L347.43,374.00 L345.97,374.25 L345.00,374.40 L344.52,374.47 L343.06,374.69 L341.61,374.90 L340.15,375.12 L338.70,375.33 L337.25,375.53 L335.79,375.72 L334.34,375.91 L332.88,376.08 L331.80,376.20 L331.43,376.24 L329.97,376.39 L328.52,376.54 L327.07,376.68 L325.61,376.81 L324.16,376.94 L322.70,377.07 L321.25,377.19 L319.80,377.31 L318.34,377.42 L316.89,377.54 L315.43,377.65 L315.00,377.68 L313.98,377.76 L313.00,377.84 L312.52,377.87 L311.07,377.98 L309.62,378.09 L309.50,378.10 L308.16,378.20 L306.71,378.32 L305.25,378.44 L303.80,378.56 L302.34,378.68 L300.89,378.80 L299.44,378.91 L297.98,379.02 L296.53,379.13 L295.07,379.23 L293.62,379.32 L292.17,379.41 L290.71,379.48 L290.00,379.51 L289.26,379.54 L287.80,379.59 L287.30,379.60 L286.35,379.62 L284.89,379.65 L283.44,379.68 L281.99,379.70 L280.53,379.72 L280.00,379.73 L279.08,379.74 L277.62,379.76 L276.17,379.78 L274.71,379.80 L273.26,379.81 L271.81,379.83 L270.35,379.85 L268.90,379.87 L267.44,379.89 L267.00,379.90 L265.99,379.92 L264.53,379.95 L263.08,379.98 L261.63,380.02 L260.17,380.06 L260.00,380.06 L258.72,380.10 L257.26,380.13 L255.81,380.17 L254.36,380.20 L252.90,380.23 L251.45,380.26 L249.99,380.28 L248.54,380.29 L247.08,380.30 L246.80,380.30 L245.63,380.30 L244.18,380.28 L242.72,380.26 L241.27,380.24 L239.81,380.20 L238.36,380.16 L236.90,380.11 L235.45,380.06 L235.00,380.05 L234.00,380.01 L232.54,379.95 L231.09,379.89 L229.63,379.82 L228.18,379.76 L226.73,379.70 L225.27,379.63 L224.50,379.60 L223.82,379.57 L222.36,379.50 L220.91,379.42 L219.45,379.33 L218.00,379.24 L216.55,379.14 L215.09,379.04 L213.64,378.94 L212.18,378.83 L210.73,378.72 L209.27,378.61 L207.82,378.50 L207.00,378.44 L206.37,378.39 L204.91,378.28 L203.46,378.18 L202.30,378.10 L202.00,378.08 L200.55,377.98 L199.10,377.89 L197.64,377.80 L196.19,377.72 L194.73,377.63 L193.28,377.54 L191.82,377.45 L190.37,377.36 L188.92,377.26 L187.46,377.16 L186.01,377.05 L184.55,376.93 L183.10,376.80 L182.00,376.70 L181.64,376.66 L180.19,376.51 L180.00,376.49 L178.74,376.33 L177.28,376.14 L175.83,375.93 L174.37,375.71 L172.92,375.47 L171.47,375.22 L170.01,374.97 L168.56,374.70 L167.10,374.43 L165.65,374.15 L164.19,373.87 L162.74,373.58 L161.80,373.40 L161.29,373.30 L159.83,373.00 L158.38,372.69 L156.92,372.37 L155.47,372.03 L154.01,371.68 L152.56,371.33 L151.11,370.97 L150.00,370.68 L149.65,370.60 L148.20,370.22 L146.74,369.84 L145.29,369.45 L143.83,369.06 L142.38,368.67 L140.93,368.28 L139.50,367.90 L139.47,367.89 L138.02,367.50 L136.56,367.08 L135.11,366.66 L133.66,366.23 L132.20,365.79 L130.75,365.35 L129.29,364.90 L127.84,364.45 L126.38,364.00 L125.00,363.58 L124.93,363.56 L123.48,363.13 L122.02,362.70 L120.57,362.28 L119.11,361.88 L117.66,361.49 L117.30,361.40 L116.20,361.12 L114.75,360.75 L113.30,360.39 L111.84,360.03 L110.39,359.67 L108.93,359.33 L107.48,358.98 L106.03,358.65 L104.57,358.32 L103.12,357.99 L101.66,357.68 L100.21,357.36 L98.75,357.06 L97.30,356.76Z" fill="url(#hatch)" stroke="#0000ff" stroke-opacity="0.35" stroke-width="0.7"/>
<path d="M107.00,338.20 L107.90,338.53 L108.80,338.86 L109.69,339.19 L110.59,339.53 L111.49,339.86 L112.39,340.20 L113.29,340.53 L114.19,340.87 L115.08,341.21 L115.98,341.55 L116.88,341.89 L117.78,342.23 L118.68,342.57 L119.58,342.91 L120.47,343.25 L121.37,343.60 L122.27,343.94 L123.17,344.29 L124.07,344.64 L124.97,344.99 L125.00,345.00 L125.86,345.34 L126.76,345.69 L127.66,346.04 L128.56,346.39 L129.46,346.74 L130.36,347.09 L131.25,347.44 L132.15,347.80 L133.05,348.15 L133.95,348.51 L134.85,348.87 L135.75,349.23 L136.64,349.59 L137.54,349.95 L138.44,350.31 L139.34,350.67 L140.24,351.04 L141.14,351.40 L142.03,351.77 L142.93,352.14 L143.83,352.51 L144.73,352.89 L145.00,353.00 L145.63,353.26 L146.53,353.64 L147.42,354.02 L148.32,354.40 L149.22,354.78 L150.12,355.16 L151.02,355.55 L151.92,355.94 L152.81,356.33 L153.71,356.72 L154.61,357.11 L155.51,357.51 L156.41,357.90 L157.31,358.30 L158.20,358.70 L159.10,359.10 L160.00,359.50" fill="none" stroke="#0000ff" stroke-width="1.25" stroke-dasharray="6.5 4"/>
<path d="M340.00,365.00 L342.02,364.17 L344.05,363.37 L346.07,362.59 L348.09,361.85 L350.12,361.15 L351.20,360.80 L352.14,360.51 L354.17,359.90 L356.19,359.33 L358.21,358.78 L360.24,358.25 L362.26,357.74 L364.28,357.23 L366.31,356.73 L368.33,356.23 L370.36,355.73 L372.38,355.21 L374.40,354.68 L374.70,354.60 L376.43,354.14 L378.45,353.59 L380.47,353.04 L382.50,352.47 L383.10,352.30 L384.52,351.90 L386.55,351.26 L388.57,350.65 L390.59,350.04 L392.62,349.44 L393.40,349.20 L394.64,348.67 L396.66,347.79 L398.69,346.92 L400.60,346.10 L400.71,346.08 L402.74,345.68 L404.20,345.40 L404.76,345.88 L406.78,347.62 L408.81,349.36 L409.90,350.30 L410.83,351.00 L412.85,352.53 L414.00,353.40 L414.88,353.79 L416.90,354.70 L418.93,355.60 L420.95,356.50 L422.97,357.41 L424.30,358.00 L425.00,358.07 L427.02,358.29 L429.04,358.50 L430.00,358.60 L431.07,358.77 L433.09,359.11 L435.12,359.44 L435.50,359.50 L437.14,359.69 L439.16,359.92 L441.19,360.15 L443.21,360.38 L445.23,360.61 L446.00,360.70 L447.26,360.50 L449.28,360.17 L451.31,359.84 L452.20,359.70 L453.33,359.64 L455.35,359.52 L457.38,359.41 L459.40,359.30" fill="none" stroke="#0000ff" stroke-width="1.25" stroke-dasharray="6.5 4"/>
<path d="M103.30,348.80 L104.18,349.01 L105.05,349.22 L105.93,349.44 L106.81,349.65 L107.68,349.87 L108.56,350.08 L109.43,350.30 L110.31,350.52 L111.19,350.74 L112.06,350.96 L112.94,351.18 L113.82,351.40 L114.69,351.63 L115.57,351.85 L116.44,352.08 L117.32,352.30 L118.20,352.53 L119.07,352.76 L119.95,352.99 L120.00,353.00 L120.83,353.22 L121.70,353.46 L122.58,353.70 L123.45,353.94 L124.33,354.19 L125.21,354.44 L126.08,354.69 L126.96,354.95 L127.84,355.20 L128.71,355.46 L129.59,355.71 L130.46,355.97 L131.34,356.22 L132.22,356.47 L133.09,356.71 L133.97,356.96 L134.85,357.20 L135.72,357.43 L136.60,357.66 L137.47,357.89 L138.35,358.11 L139.23,358.32 L140.00,358.50 L140.10,358.52 L140.98,358.72 L141.86,358.92 L142.73,359.11 L143.61,359.31 L144.48,359.49 L145.36,359.68 L146.24,359.86 L147.11,360.04 L147.99,360.21 L148.87,360.39 L149.74,360.56 L150.62,360.72 L151.49,360.88 L152.37,361.04 L153.25,361.20 L154.12,361.35 L155.00,361.50" fill="none" stroke="#0000ff" stroke-width="1.3" stroke-dasharray="1.3 2.5"/>
<path d="M340.00,367.50 L342.02,367.21 L344.05,366.93 L346.07,366.65 L348.09,366.38 L350.12,366.11 L352.14,365.85 L354.17,365.60 L356.19,365.35 L357.40,365.20 L358.21,365.10 L360.24,364.83 L362.26,364.56 L364.28,364.28 L366.31,364.01 L368.33,363.77 L370.36,363.56 L372.38,363.40 L374.40,363.31 L374.70,363.30 L376.43,363.26 L378.45,363.22 L380.47,363.18 L382.50,363.15 L384.52,363.13 L386.55,363.14 L388.57,363.11 L389.50,363.10 L390.59,363.10 L392.62,363.10 L394.64,363.10 L396.66,363.10 L398.69,363.10 L400.71,363.10 L402.74,363.10 L404.20,363.10 L404.76,363.16 L406.78,363.39 L408.81,363.62 L410.83,363.84 L412.85,364.07 L414.00,364.20 L414.88,364.39 L416.90,364.84 L418.93,365.29 L420.95,365.74 L422.97,366.19 L425.00,366.63 L426.20,366.90 L427.02,366.62 L429.04,365.94 L431.07,365.26 L433.09,364.57 L433.60,364.40 L435.12,365.22 L437.14,366.31 L438.60,367.10 L439.16,367.53 L441.19,369.06 L443.21,370.59 L445.23,372.12 L446.00,372.70 L447.26,373.40 L449.28,374.52 L451.31,375.64 L453.33,376.76 L453.40,376.80 L455.35,377.78 L457.38,378.79 L459.40,379.80" fill="none" stroke="#0000ff" stroke-width="1.3" stroke-dasharray="1.3 2.5"/>
<path d="M97.30,342.87 L98.75,343.21 L100.21,343.55 L101.66,343.90 L103.12,344.26 L104.57,344.62 L106.03,344.99 L107.48,345.36 L108.93,345.73 L110.39,346.12 L111.84,346.50 L113.30,346.90 L114.75,347.29 L116.20,347.69 L117.30,348.00 L117.66,348.10 L119.11,348.52 L120.57,348.95 L122.02,349.39 L123.48,349.83 L124.93,350.29 L125.00,350.31 L126.38,350.75 L127.84,351.21 L129.29,351.68 L130.75,352.15 L132.20,352.62 L133.66,353.08 L135.11,353.54 L136.56,354.00 L138.02,354.45 L139.47,354.89 L139.50,354.90 L140.93,355.33 L142.38,355.78 L143.83,356.22 L145.29,356.67 L146.74,357.12 L148.20,357.57 L149.65,358.01 L150.00,358.12 L151.11,358.45 L152.56,358.88 L154.01,359.31 L155.47,359.73 L156.92,360.13 L158.38,360.53 L159.83,360.91 L161.29,361.27 L161.80,361.40 L162.74,361.63 L164.19,361.97 L165.65,362.30 L167.10,362.63 L168.56,362.95 L170.01,363.26 L171.47,363.57 L172.92,363.87 L174.37,364.16 L175.83,364.45 L177.28,364.73 L178.74,365.00 L180.00,365.24 L180.19,365.27 L181.64,365.54 L182.00,365.60 L183.10,365.80 L184.55,366.06 L186.01,366.32 L187.46,366.57 L188.92,366.83 L190.37,367.08 L191.82,367.32 L193.28,367.55 L194.73,367.78 L196.19,368.00 L197.64,368.21 L199.10,368.41 L200.55,368.59 L202.00,368.77 L202.30,368.80 L203.46,368.93 L204.91,369.08 L206.37,369.24 L207.00,369.30 L207.82,369.38 L209.27,369.53 L210.73,369.67 L212.18,369.80 L213.64,369.93 L215.09,370.05 L216.55,370.17 L218.00,370.28 L219.45,370.38 L220.91,370.48 L222.36,370.58 L223.82,370.66 L224.50,370.70 L225.27,370.74 L226.73,370.82 L228.18,370.89 L229.63,370.96 L231.09,371.03 L232.54,371.09 L234.00,371.15 L235.00,371.19 L235.45,371.21 L236.90,371.27 L238.36,371.32 L239.81,371.37 L241.27,371.42 L242.72,371.47 L244.18,371.52 L245.63,371.56 L246.80,371.60 L247.08,371.61 L248.54,371.65 L249.99,371.70 L251.45,371.75 L252.90,371.80 L254.36,371.85 L255.81,371.89 L257.26,371.94 L258.72,371.98 L260.00,372.01 L260.17,372.01 L261.63,372.04 L263.08,372.07 L264.53,372.09 L265.99,372.10 L267.00,372.10 L267.44,372.10 L268.90,372.09 L270.35,372.08 L271.81,372.06 L273.26,372.04 L274.71,372.01 L276.17,371.97 L277.62,371.93 L279.08,371.89 L280.00,371.86 L280.53,371.84 L281.99,371.79 L283.44,371.74 L284.89,371.69 L286.35,371.64 L287.30,371.60 L287.80,371.58 L289.26,371.51 L290.00,371.47 L290.71,371.43 L292.17,371.34 L293.62,371.23 L295.07,371.12 L296.53,371.00 L297.98,370.87 L299.44,370.73 L300.89,370.59 L302.34,370.44 L303.80,370.29 L305.25,370.14 L306.71,369.99 L308.16,369.84 L309.50,369.70 L309.62,369.69 L311.07,369.54 L312.52,369.37 L313.00,369.32 L313.98,369.21 L315.00,369.09 L315.43,369.03 L316.89,368.85 L318.34,368.67 L319.80,368.48 L321.25,368.29 L322.70,368.10 L324.16,367.91 L325.61,367.71 L327.07,367.52 L328.52,367.33 L329.97,367.14 L331.43,366.95 L331.80,366.90 L332.88,366.77 L334.34,366.59 L335.79,366.42 L337.25,366.26 L338.70,366.09 L340.15,365.91 L341.61,365.72 L343.06,365.51 L344.52,365.28 L345.00,365.20 L345.97,365.02 L347.43,364.71 L348.88,364.36 L350.33,363.98 L351.79,363.58 L353.24,363.16 L354.70,362.74 L356.15,362.33 L357.60,361.94 L359.06,361.57 L359.80,361.40 L360.00,361.35 L360.51,361.24 L361.97,360.90 L363.42,360.56 L364.88,360.23 L366.33,359.90 L367.78,359.58 L369.24,359.28 L370.69,359.00 L372.15,358.75 L373.60,358.54 L374.70,358.40 L375.06,358.36 L376.51,358.21 L377.96,358.09 L379.42,357.98 L380.00,357.93 L380.87,357.88 L382.33,357.78 L383.78,357.69 L385.23,357.59 L386.69,357.43 L388.14,357.31 L389.50,357.20 L389.60,357.18 L390.30,357.05 L391.05,356.90 L392.51,356.63 L393.40,356.46 L393.96,356.35 L395.41,356.07 L396.87,355.80 L398.32,355.52 L399.78,355.24 L400.60,355.09 L401.23,354.97 L402.69,354.69 L404.14,354.41 L404.20,354.40 L405.59,354.91 L407.05,355.45 L408.50,355.98 L409.96,356.51 L410.90,356.86 L411.41,357.05 L412.87,357.58 L414.00,358.00 L414.32,358.13 L415.20,358.49 L415.77,358.72 L417.23,359.32 L418.68,359.91 L420.14,360.51 L421.20,360.94 L421.59,361.10 L423.04,361.70 L424.50,362.29 L425.30,362.62 L425.50,362.70 L425.95,362.66 L426.20,362.64 L427.41,362.55 L428.40,362.47 L428.86,362.43 L430.32,362.31 L431.77,362.20 L433.22,362.08 L434.68,361.97 L435.50,361.90 L436.13,362.21 L437.59,362.93 L439.04,363.65 L440.50,364.37 L441.80,365.02 L441.95,365.09 L443.40,365.81 L444.86,366.53 L446.00,367.10 L446.31,367.18 L447.77,367.55 L449.22,367.93 L450.67,368.30 L452.13,368.67 L453.00,368.90 L453.40,369.00 L453.58,369.02 L455.04,369.16 L455.20,369.18 L456.49,369.31 L457.95,369.45 L459.40,369.60" fill="none" stroke="#0000ff" stroke-width="3.7" stroke-linejoin="round"/>
</g>
<!-- labels -->
<g class="ser" font-size="26">
<text transform="translate(152.4,75.3) scale(1.21,1)" letter-spacing="1">Pressure</text>
</g>
<g class="ser" font-size="21" text-anchor="end">
<text transform="translate(77.0,67.9) scale(1.08,1)" letter-spacing="0.8">10</text>
<text transform="translate(85.3,61.3) scale(1.12,1)" font-size="12.5" stroke="#000" stroke-width="0.3">2</text>
<text transform="translate(85.2,121.6) scale(1.08,1)" letter-spacing="0.8">10</text>
<text transform="translate(83.6,176.5) scale(1.08,1)">1</text>
<text transform="translate(85.0,231.4) scale(1.2,1)">0.1</text>
<text transform="translate(67.6,286.4) scale(1.08,1)" letter-spacing="0.8">10</text>
<text transform="translate(85.0,279.7) scale(1.15,1)" font-size="12.5" stroke="#000" stroke-width="0.3">−<tspan dx="0.8">2</tspan></text>
</g>
<g class="ser" font-size="21" text-anchor="middle">
<text transform="translate(170.6,415) scale(1.19,1)">0.1</text>
<text transform="translate(383.1,415) scale(1.08,1)">1</text>
</g>
<g class="san" font-size="14.3" text-anchor="end" stroke="#000" stroke-width="0.38">
<text transform="translate(88.0,333.0) scale(1.2,1.1)">0.2</text>
<text transform="translate(88.0,348.0) scale(1.2,1.1)">0</text>
<text transform="translate(88.0,362.1) scale(1.2,1.1)">−<tspan dx="1.6">0.2</tspan></text>
<text transform="translate(88.0,376.5) scale(1.2,1.1)">−<tspan dx="1.6">0.4</tspan></text>
<text transform="translate(88.0,389.9) scale(1.2,1.1)">−<tspan dx="1.6">0.6</tspan></text>
</g>
<!-- x label -->
<g class="ser" font-size="26">
<text transform="translate(253.4,438.1) scale(1.3,1)">r</text>
<path d="M265.8,442.4 L279.6,420" stroke="#000" stroke-width="1.3" fill="none"/>
<text transform="translate(281.2,438.1) scale(1.3,1)">r</text>
</g>
<text class="san" font-size="14" stroke="#000" stroke-width="0.5" transform="translate(293.0,445.6) scale(1.04,1.02)">500</text>
<!-- y label main -->
<g transform="translate(31.2,220.3) rotate(-90)">
<g class="ser" font-size="25.5">
<text transform="translate(-0.5,0) scale(1.0,1)">P</text>
<path d="M22.5,-18.8 Q13.5,-7.3 22.5,4.2" stroke="#000" stroke-width="1.35" fill="none"/>
<text transform="translate(25.2,0) scale(1.2,1)">r</text>
<path d="M39.0,-18.8 Q49.0,-7.3 39.0,4.2" stroke="#000" stroke-width="1.35" fill="none"/>
<path d="M47.8,3.9 L60.9,-19" stroke="#000" stroke-width="1.3" fill="none"/>
<text transform="translate(62.8,0) scale(1.0,1)">P</text>
</g>
<text class="san" font-size="14" stroke="#000" stroke-width="0.5" transform="translate(78.2,7.2) scale(1.05,1.02)">500</text>
</g>
<!-- y label lower -->
<g transform="translate(35.0,381.6) rotate(-90)" class="ser" font-size="20.5">
<text transform="translate(-0.3,0) scale(0.92,1)">Δ</text>
<text transform="translate(11.0,0) scale(1.0,1)">P</text>
<path d="M24.1,3.4 L35.5,-16" stroke="#000" stroke-width="1.25" fill="none"/>
<text transform="translate(37.1,0) scale(1.0,1)">P</text>
</g>
</svg>
</body></html>
